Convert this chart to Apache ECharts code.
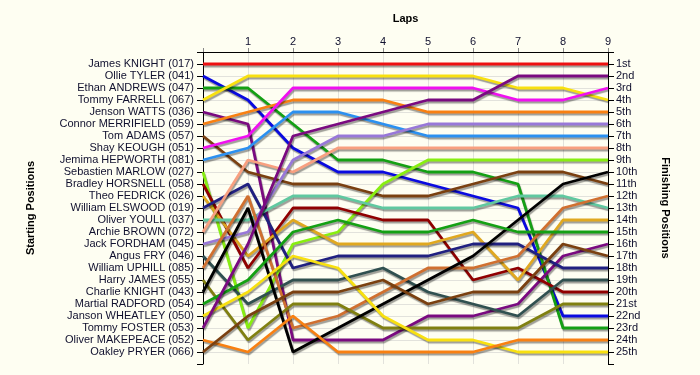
<!DOCTYPE html>
<html><head><meta charset="utf-8">
<script src="https://cdn.jsdelivr.net/npm/echarts@6/dist/echarts.min.js"></script>
<style>html,body{margin:0;padding:0;background:#fefef2;} #c{width:700px;height:375px;}</style>
</head><body><div id="c"></div>
<script>
const laps = [0, 1, 2, 3, 4, 5, 6, 7, 8, 9];
const drivers = [
  'James KNIGHT (017)', 'Ollie TYLER (041)', 'Ethan ANDREWS (047)', 'Tommy FARRELL (067)',
  'Jenson WATTS (036)', 'Connor MERRIFIELD (059)', 'Tom ADAMS (057)', 'Shay KEOUGH (051)',
  'Jemima HEPWORTH (081)', 'Sebastien MARLOW (027)', 'Bradley HORSNELL (058)', 'Theo FEDRICK (026)',
  'William ELSWOOD (019)', 'Oliver YOULL (037)', 'Archie BROWN (072)', 'Jack FORDHAM (045)',
  'Angus FRY (046)', 'William UPHILL (085)', 'Harry JAMES (055)', 'Charlie KNIGHT (043)',
  'Martial RADFORD (054)', 'Janson WHEATLEY (050)', 'Tommy FOSTER (053)', 'Oliver MAKEPEACE (052)',
  'Oakley PRYER (066)'
];
const finishLabels = [
  '1st', '2nd', '3rd', '4th', '5th', '6th', '7th', '8th', '9th', '10th', '11th', '12th', '13th',
  '14th', '15th', '16th', '17th', '18th', '19th', '20th', '21st', '22nd', '23rd', '24th', '25th'
];
const lineColors = [
  '#ee1111', '#0a0ae0', '#14a014', '#f8e010', '#7a0a80', '#f88012', '#7a4010', '#f010f0',
  '#2b90f0', '#88ee11', '#900000', '#e0a820', '#202080', '#60c8a0', '#f8a080', '#9878d8',
  '#305050', '#d07030', '#808010', '#000000', '#14a014', '#f8e010', '#7a0a80', '#f88012',
  '#7a4010'
];
// position of each driver at laps 0..9
const positions = [
  [1, 1, 1, 1, 1, 1, 1, 1, 1, 1],
  [2, 4, 8, 10, 10, 11, 12, 13, 22, 22],
  [3, 3, 6, 9, 9, 10, 10, 11, 23, 23],
  [4, 2, 2, 2, 2, 2, 2, 3, 3, 4],
  [5, 6, 24, 24, 24, 22, 22, 21, 17, 16],
  [6, 5, 4, 4, 4, 5, 5, 5, 5, 5],
  [7, 10, 11, 11, 12, 12, 11, 10, 10, 11],
  [8, 7, 3, 3, 3, 3, 3, 4, 4, 3],
  [9, 8, 5, 5, 6, 7, 7, 7, 7, 7],
  [10, 23, 16, 15, 11, 9, 9, 9, 9, 9],
  [11, 18, 13, 13, 14, 14, 19, 18, 20, 20],
  [12, 17, 14, 16, 16, 16, 15, 19, 14, 14],
  [13, 11, 18, 17, 17, 17, 16, 16, 18, 18],
  [14, 14, 12, 12, 13, 13, 13, 12, 12, 13],
  [15, 9, 10, 8, 8, 8, 8, 8, 8, 8],
  [16, 15, 9, 7, 7, 6, 6, 6, 6, 6],
  [17, 21, 19, 19, 18, 20, 21, 22, 19, 19],
  [18, 12, 23, 22, 20, 18, 18, 17, 13, 12],
  [19, 24, 21, 21, 23, 23, 23, 23, 21, 21],
  [20, 13, 25, 23, 21, 19, 17, 14, 11, 10],
  [21, 19, 15, 14, 15, 15, 14, 15, 15, 15],
  [22, 20, 17, 18, 22, 24, 24, 25, 25, 25],
  [23, 16, 7, 6, 5, 4, 4, 2, 2, 2],
  [24, 25, 22, 25, 25, 25, 25, 24, 24, 24],
  [25, 22, 20, 20, 19, 21, 20, 20, 16, 17]
];

const txt = '#10102e';
const font = 'Liberation Sans';
const gridCol = '#e2e2dc';
const splitColors = [];
for (let i = 0; i <= 26; i++) splitColors.push(i === 0 || i === 26 ? 'rgba(0,0,0,0)' : gridCol);

const series = drivers.map((d, i) => ({
  name: d,
  type: 'line',
  symbol: 'none',
  silent: true,
  animation: false,
  data: laps.map((l, k) => [l, positions[i][k]]),
  lineStyle: {
    color: lineColors[i], width: 2.8,
    shadowColor: 'rgba(0,0,0,0.38)', shadowBlur: 1, shadowOffsetX: 1, shadowOffsetY: 2
  },
  z: 2 + i
}));

const chart = echarts.init(document.getElementById('c'), null, {renderer: 'canvas'});
chart.setOption({
  backgroundColor: '#fefef2',
  animation: false,
  grid: {left: 203, right: 92, top: 52, bottom: 11},
  xAxis: {
    type: 'value', position: 'top', min: 0, max: 9, interval: 1,
    name: 'Laps', nameLocation: 'middle', nameGap: 28,
    nameTextStyle: {fontFamily: font, fontSize: 11, fontWeight: 'bold', color: '#000'},
    axisLine: {lineStyle: {color: '#000', width: 1}},
    axisTick: {show: true, length: 4, lineStyle: {color: '#888'}},
    axisLabel: {fontFamily: font, fontSize: 11, color: txt, margin: 5,
      formatter: v => (v === 0 ? '' : String(v))},
    splitLine: {show: true, lineStyle: {color: gridCol, width: 1}}
  },
  yAxis: [
    {
      type: 'value', position: 'left', min: 0, max: 26, interval: 1, inverse: true,
      name: 'Starting Positions', nameLocation: 'middle', nameGap: 167, nameRotate: 90,
      nameTextStyle: {fontFamily: font, fontSize: 11, fontWeight: 'bold', color: '#000'},
      axisLine: {show: true, lineStyle: {color: '#000', width: 1}},
      axisTick: {show: true, length: 6, lineStyle: {color: '#000'}},
      axisLabel: {fontFamily: font, fontSize: 11, color: txt, margin: 9,
        formatter: v => drivers[v - 1] || ''},
      splitLine: {show: true, lineStyle: {color: splitColors, width: 1}}
    },
    {
      type: 'value', position: 'right', min: 0, max: 26, interval: 1, inverse: true,
      name: 'Finishing Positions', nameLocation: 'middle', nameGap: 52, nameRotate: -90,
      nameTextStyle: {fontFamily: font, fontSize: 11, fontWeight: 'bold', color: '#000'},
      axisLine: {show: true, lineStyle: {color: '#000', width: 1}},
      axisTick: {show: true, length: 6, lineStyle: {color: '#000'}},
      axisLabel: {fontFamily: font, fontSize: 11, color: txt, margin: 8,
        formatter: v => finishLabels[v - 1] || ''},
      splitLine: {show: false}
    }
  ],
  series: series
});
</script>
</body></html>
